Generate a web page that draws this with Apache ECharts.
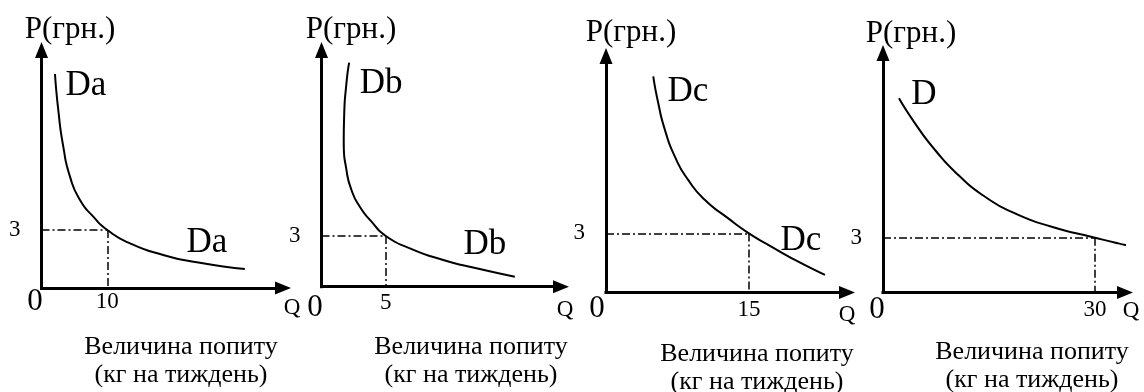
<!DOCTYPE html>
<html>
<head>
<meta charset="utf-8">
<script src="https://cdn.jsdelivr.net/npm/echarts@6.0.0/dist/echarts.min.js"></script>
<style>
  html, body { margin: 0; padding: 0; background: #fff; }
  #main { width: 1144px; height: 392px; }
</style>
</head>
<body>
<div id="main"></div>
<script>
// рівноважні точки (Q*, P*) для кожного графіка
var qStar = [10, 5, 15, 30];
var pStar = [3, 3, 3, 3];
var curveNames = ['Da', 'Db', 'Dc', 'D'];
// криві попиту [Q, P]
var curveA = [[2.05, 11.07], [2.55, 9.21], [3.31, 7.31], [4.33, 5.76], [5.85, 4.55], [7.87, 3.69], [10, 3], [13.45, 2.31], [18.5, 1.71], [23.6, 1.33], [30.9, 0.98]];
var curveB = [[2.15, 13.25], [1.94, 12.04], [1.76, 10.06], [1.73, 8.49], [1.94, 6.91], [2.33, 5.72], [2.98, 4.73], [3.89, 3.85], [5, 3], [6.87, 2.27], [9.46, 1.58], [12.05, 1.09], [15.03, 0.59]];
var curveC = [[4.96, 10.97], [5.49, 9.59], [6.19, 8.24], [7.24, 6.88], [8.64, 5.70], [10.39, 4.69], [12.83, 3.76], [15, 3], [17.39, 2.32], [19.83, 1.65], [22.98, 0.89]];
var curveD = [[2.26, 10.63], [4.53, 9.26], [7.36, 7.80], [10.66, 6.43], [14.43, 5.24], [18.68, 4.33], [23.87, 3.60], [30, 3], [33.3, 2.69], [36.83, 2.38]];
var curves = [curveA, curveB, curveC, curveD];
// межі осей
var axisMaxQ = [36.7, 18.62, 25.29, 34.24];
var axisMaxP = [12.31, 14.0, 12.0, 13.11];
var axisNameP = 'P(грн.)';
var axisNameQ = 'Q';
var caption = ['Величина попиту', '(кг на тиждень)'];

// розміщення (пікселі та зсуви підписів)
var layout = [
  {grid: [41.5, 50, 241.5, 238], pName: [28.5, -12], qName: [9, 20], zero: [-6.5, 14], tickMargin: 2, top: [6.76, 10.45], low: [25.15, 2.33], cap: [181, 347]},
  {grid: [321.5, 50, 239.5, 236.7], pName: [29.5, -12], qName: [4, 23], zero: [-6.5, 21], tickMargin: 5, top: [4.63, 11.99], low: [12.71, 2.47], cap: [471, 347]},
  {grid: [606, 56, 241, 236.5], pName: [25, -15], qName: [0, 22], zero: [-9, 16], tickMargin: 6, top: [8.6, 10.16], low: [20.46, 2.61], cap: [757, 354]},
  {grid: [883, 53, 242, 239.5], pName: [28, -11], qName: [6, 18], zero: [-6, 17.5], tickMargin: 6, top: [5.8, 10.81], low: [34.39, 3.69], cap: [1032, 352]}
];

var font = 'Liberation Serif';
var chart = echarts.init(document.getElementById('main'));
var grids = [], xAxes = [], yAxes = [], series = [], graphics = [];

for (var i = 0; i < curves.length; i++) {
  var L = layout[i];
  var axisLine = {
    show: true, onZero: false,
    symbol: ['none', 'triangle'], symbolSize: [13, 16],
    lineStyle: {color: '#000', width: 3, cap: 'square'}
  };
  grids.push({left: L.grid[0], top: L.grid[1], width: L.grid[2], height: L.grid[3], outerBoundsMode: 'none'});
  xAxes.push({
    type: 'value', gridIndex: i, min: 0, max: axisMaxQ[i],
    axisLine: axisLine, axisTick: {show: false}, splitLine: {show: false},
    axisLabel: {customValues: [qStar[i]], margin: L.tickMargin, color: '#000', fontFamily: font, fontSize: 23}
  });
  yAxes.push({
    type: 'value', gridIndex: i, min: 0, max: axisMaxP[i],
    axisLine: axisLine, axisTick: {show: false}, splitLine: {show: false},
    axisLabel: {customValues: [pStar[i]], margin: 21, color: '#000', fontFamily: font, fontSize: 23},
    name: axisNameP, nameLocation: 'end', nameGap: 8 - L.pName[1], nameMoveOverlap: false,
    nameTextStyle: {color: '#000', fontFamily: font, fontSize: 31, align: 'center', verticalAlign: 'middle', padding: [0, 0, 0, 2 * L.pName[0]]}
  });
  series.push({
    type: 'line', xAxisIndex: i, yAxisIndex: i,
    data: curves[i], smooth: 0.6, showSymbol: false, clip: false, silent: true,
    lineStyle: {color: '#000', width: 2},
    markLine: {
      silent: true, symbol: ['none', 'none'], label: {show: false},
      lineStyle: {color: '#000', width: 1.5, type: [8, 3, 2, 3]},
      emphasis: {disabled: true},
      data: [
        [{coord: [0, pStar[i]]}, {coord: [qStar[i], pStar[i]]}],
        [{coord: [qStar[i], pStar[i]]}, {coord: [qStar[i], 0]}]
      ]
    },
    markPoint: {
      silent: true, symbol: 'circle', symbolSize: 1,
      itemStyle: {color: 'rgba(0,0,0,0)'},
      label: {show: true, position: 'inside', color: '#000', fontFamily: font, fontSize: 35, formatter: '{b}'},
      data: [
        {name: curveNames[i], coord: L.top},
        {name: curveNames[i], coord: L.low},
        {name: '0', coord: [0, 0], label: {fontSize: 31, offset: L.zero}},
        {name: axisNameQ, coord: [axisMaxQ[i], 0], label: {fontSize: 23, offset: L.qName}}
      ]
    }
  });
  graphics.push({
    type: 'text', x: L.cap[0], y: L.cap[1] + 14,
    style: {text: caption.join('\n'), fontFamily: font, fontSize: 26, lineHeight: 28, fill: '#000', align: 'center', verticalAlign: 'middle'}
  });
}

chart.setOption({
  animation: false,
  backgroundColor: '#fff',
  grid: grids,
  xAxis: xAxes,
  yAxis: yAxes,
  series: series,
  graphic: graphics
});
</script>
</body>
</html>
